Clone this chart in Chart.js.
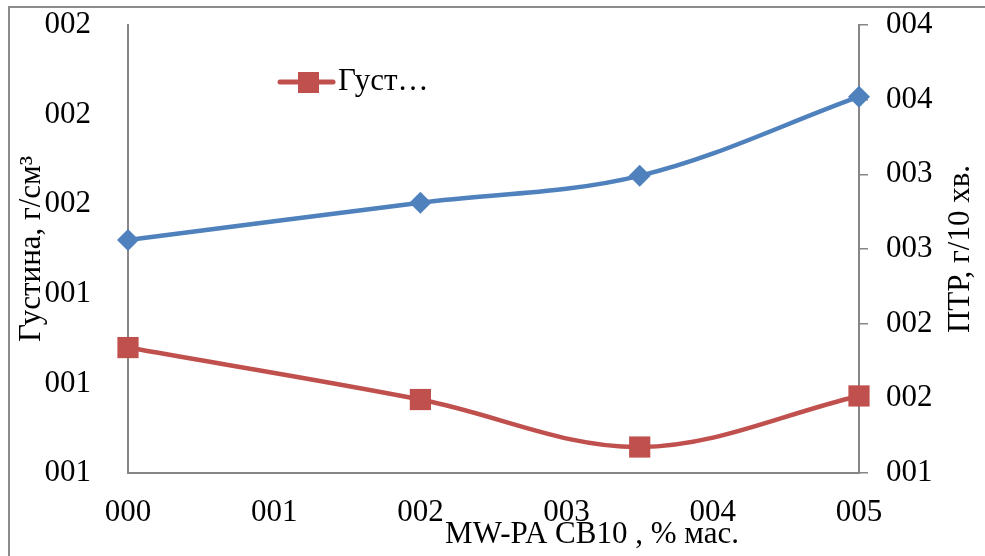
<!DOCTYPE html>
<html>
<head>
<meta charset="utf-8">
<script src="https://cdn.jsdelivr.net/npm/chart.js@4.4.1/dist/chart.umd.min.js"></script>
<style>
  html, body { margin: 0; padding: 0; background: #fff; overflow: hidden; }
  #wrap { position: relative; width: 985px; height: 556px; }
  #ramka { position: absolute; left: 8px; top: 6px; width: 1000px; height: 600px; border: 2px solid #8c8c8c; }
  canvas { position: absolute; left: 0; top: 0; }
</style>
</head>
<body>
<div id="wrap">
  <div id="ramka"></div>
  <canvas id="grafik" width="985" height="556"></canvas>
</div>
<script>
// dani z grafika
const xValues = [0, 2, 3.5, 5];
const gustyna = [1.40, 0.82, 0.29, 0.86];   // liva vis'
const ptr = [3.12, 3.62, 3.98, 5.04];        // prava vis'
const xTickLabels = ['000', '001', '002', '003', '004', '005'];
const leftTickLabels = ['001', '001', '001', '002', '002', '002'];
const rightTickLabels = ['001', '002', '002', '003', '003', '004', '004'];

const CHERVONYI = '#c0504d';
const SYNII = '#4f81bd';
const SIRYI = '#868686';
const SHRYFT = '"Liberation Serif", "Times New Roman", serif';

Chart.defaults.font.family = SHRYFT;
Chart.defaults.color = '#000';

// bez dodatkovykh vidstupiv vid pidpysiv
function bezVidstupu(s) {
    s.paddingTop = 0;
    s.paddingBottom = 0;
}

// pidpysy osej i legenda
const pidpysy = {
    id: 'pidpysy',
    afterDraw(chart) {
        const c = chart.ctx;
        const a = chart.chartArea;
        const midY = (a.top + a.bottom) / 2;
        c.save();
        c.fillStyle = '#000';
        c.font = '31px ' + SHRYFT;
        c.textAlign = 'center';
        c.textBaseline = 'middle';

        c.save();
        c.translate(32, midY);
        c.rotate(-Math.PI / 2);
        c.fillText('Густина, г/см³', 0, 0);
        c.restore();

        c.save();
        c.translate(961, midY);
        c.rotate(-Math.PI / 2);
        c.fillText('ПТР, г/10 хв.', 0, 0);
        c.restore();

        c.textBaseline = 'alphabetic';
        c.fillText('MW-PA CB10 , % мас.', 592, 543);

        // legenda
        const ly = a.top + 57;
        const lx = a.left + 152;
        c.strokeStyle = CHERVONYI;
        c.lineWidth = 5;
        c.lineCap = 'round';
        c.beginPath();
        c.moveTo(lx, ly);
        c.lineTo(lx + 53, ly);
        c.stroke();
        c.fillStyle = CHERVONYI;
        c.fillRect(lx + 18, ly - 10, 21, 21);
        c.fillStyle = '#000';
        c.textAlign = 'left';
        c.textBaseline = 'middle';
        c.fillText('Густ…', lx + 58, ly);
        c.restore();
    }
};

const ctx = document.getElementById('grafik').getContext('2d');

var chart = new Chart(ctx, {
    type: 'line',
    data: {
        datasets: [{
            label: 'Густина',
            data: xValues.map((x, i) => ({ x: x, y: gustyna[i] })),
            yAxisID: 'y',
            borderColor: CHERVONYI,
            backgroundColor: CHERVONYI,
            borderWidth: 4.5,
            pointStyle: 'rect',
            pointRadius: 15,
            pointBorderWidth: 0,
            tension: 0.35,
            clip: false
        },
        {
            label: 'ПТР',
            data: xValues.map((x, i) => ({ x: x, y: ptr[i] })),
            yAxisID: 'y1',
            borderColor: SYNII,
            backgroundColor: SYNII,
            borderWidth: 4.5,
            pointStyle: 'rectRot',
            pointRadius: 11,
            pointBorderWidth: 0,
            tension: 0.35,
            clip: false
        }]
    },
    options: {
        responsive: false,
        animation: false,
        layout: { autoPadding: false, padding: { top: 25, left: 0, right: 0, bottom: 0 } },
        plugins: {
            legend: { display: false },
            tooltip: { enabled: false }
        },
        scales: {
            x: {
                type: 'linear',
                min: 0,
                max: 5,
                afterFit: function (s) { s.height = 83; },
                grid: { display: false },
                border: { display: true, color: SIRYI, width: 2 },
                ticks: {
                    stepSize: 1,
                    autoSkip: false,
                    maxRotation: 0,
                    padding: 13,
                    font: { size: 31 },
                    callback: function (v, i) { return xTickLabels[i]; }
                }
            },
            y: {
                position: 'left',
                min: 0,
                max: 5,
                afterFit: function (s) { s.width = 128; bezVidstupu(s); },
                grid: { display: false },
                border: { display: true, color: SIRYI, width: 2 },
                ticks: {
                    stepSize: 1,
                    autoSkip: false,
                    padding: 29,
                    font: { size: 31 },
                    callback: function (v, i) { return leftTickLabels[i]; }
                }
            },
            y1: {
                position: 'right',
                min: 0,
                max: 6,
                afterFit: function (s) { s.width = 126; bezVidstupu(s); },
                grid: {
                    display: true,
                    drawOnChartArea: false,
                    drawTicks: true,
                    tickLength: 9,
                    color: SIRYI,
                    lineWidth: 1.5
                },
                border: { display: true, color: SIRYI, width: 2 },
                ticks: {
                    stepSize: 1,
                    autoSkip: false,
                    padding: 18,
                    font: { size: 31 },
                    callback: function (v, i) { return rightTickLabels[i]; }
                }
            }
        }
    },
    plugins: [pidpysy]
});
</script>
</body>
</html>
